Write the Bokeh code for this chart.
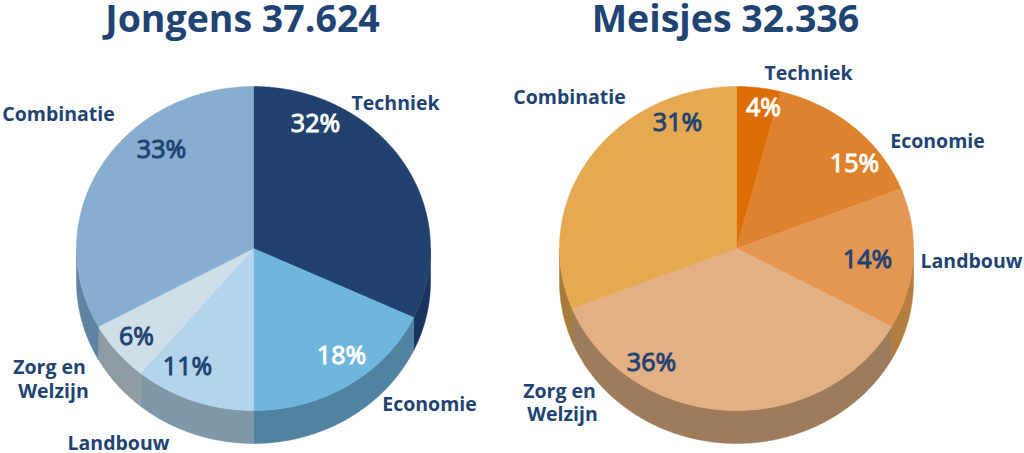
import numpy as np
from bokeh.plotting import figure
from bokeh.models import Range1d, ColumnDataSource
from bokeh.core.properties import value
from bokeh.embed import file_html
from bokeh.resources import INLINE

categories = ["Techniek", "Economie", "Landbouw", "Zorg en\nWelzijn", "Combinatie"]
jongens = [32, 18, 11, 6, 33]
meisjes = [4, 15, 14, 36, 31]
title_jongens = "Jongens 37.624"
title_meisjes = "Meisjes 32.336"

top_j = ["#21426F", "#6FB6DC", "#B3D4EA", "#CEDFEA", "#88AECF"]
side_j = ["#1B345F", "#4F83A0", "#7F98A8", "#8E9DA3", "#5F83A3"]
top_m = ["#DD6D05", "#DF822D", "#E29753", "#E3B083", "#E5A951"]
side_m = ["#A85A10", "#A86A2C", "#B37E3E", "#9E7B5B", "#A67C38"]
pct_col_j = ["#FFFFFF", "#FFFFFF", "#1F4373", "#1F4373", "#1F4373"]
pct_col_m = ["#FFFFFF", "#FFFFFF", "#1F4373", "#1F4373", "#1F4373"]
NAVY = "#1F4373"

RX, RY, DEPTH = 177, 162, 33
STEP = 0.5

p = figure(width=1024, height=453, x_range=Range1d(0, 1024), y_range=Range1d(453, 0),
           output_backend="svg", toolbar_location=None, min_border=0,
           outline_line_color=None,
           background_fill_color="white", border_fill_color="white")
p.axis.visible = False
p.grid.visible = False


def arc(cx, cy, a0, a1):
    n = max(2, int(abs(a1 - a0) / STEP) + 1)
    t = np.radians(np.linspace(a0, a1, n))
    return cx + RX * np.sin(t), cy - RY * np.cos(t)


def draw_pie(cx, cy, values, tops, sides):
    edges = np.cumsum([0] + list(values)) / sum(values) * 360.0
    xs, ys, cols = [], [], []
    for i in range(len(values)):
        a0, a1 = max(edges[i], 90.0), min(edges[i + 1], 270.0)
        if a1 > a0:
            x, y = arc(cx, cy, a0, a1)
            xs.append(np.concatenate([x, x[::-1]]))
            ys.append(np.concatenate([y, y[::-1] + DEPTH]))
            cols.append(sides[i])
    p.patches(xs, ys, fill_color=cols, line_color=cols, line_width=0.5)
    xs, ys, cols = [], [], []
    for i in range(len(values)):
        x, y = arc(cx, cy, edges[i], edges[i + 1])
        xs.append(np.concatenate([[cx], x]))
        ys.append(np.concatenate([[cy], y]))
        cols.append(tops[i])
    p.patches(xs, ys, fill_color=cols, line_color=cols, line_width=0.5)


def texts(x, y, t, size, color=NAVY, style="bold", outline=False):
    c = color if isinstance(color, list) else [color] * len(x)
    src = ColumnDataSource(dict(x=x, y=y, t=t, c=c))
    p.text("x", "y", text="t", source=src, text_color="c", text_align="center",
           text_baseline="middle", text_font=value("Open Sans"),
           text_font_size=size, text_font_style=style,
           text_outline_color="c" if outline else None)


draw_pie(253, 248, jongens, top_j, side_j)
draw_pie(736, 248, meisjes, top_m, side_m)

texts([242, 725], [17, 17], [title_jongens, title_meisjes], "37.5px")

lab = [c for c in categories if "\n" not in c]
zorg = categories[3].split("\n")
texts([395, 429, 118, 58], [102, 403, 442, 113], lab, "19.5px")
texts([49, 53], [366, 390], zorg, "19.5px")
texts([808, 937, 971, 569], [72, 140, 260, 96], lab, "19.5px")
texts([559, 562], [390, 413], zorg, "19.5px")

texts([315, 341, 187, 136, 161], [121, 353, 364, 334, 147],
      [f"{v}%" for v in jongens], "25px", pct_col_j, "normal", True)
texts([763, 854, 867, 651, 677], [105, 161, 257, 360, 120],
      [f"{v}%" for v in meisjes], "25px", pct_col_m, "normal", True)

open("out.html", "w").write(file_html(p, INLINE))
